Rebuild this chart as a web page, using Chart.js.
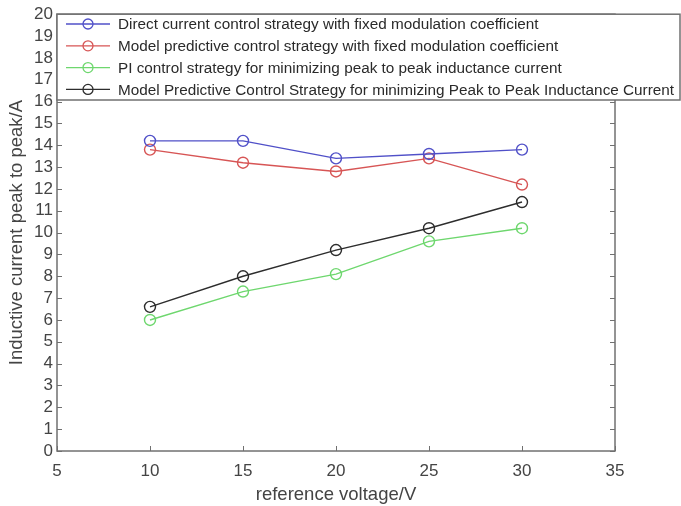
<!DOCTYPE html>
<html>
<head>
<meta charset="utf-8">
<script src="https://cdn.jsdelivr.net/npm/chart.js@4/dist/chart.umd.min.js"></script>
<style>
  body { margin: 0; background: #fff; }
</style>
</head>
<body>
<canvas id="myLineChart" width="681" height="506"></canvas>
<script>
var voltages = [10, 15, 20, 25, 30];
var seriesNames = [
    'Direct current control strategy with fixed modulation coefficient',
    'Model predictive control strategy with fixed modulation coefficient',
    'PI control strategy for minimizing peak to peak inductance current',
    'Model Predictive Control Strategy for minimizing Peak to Peak Inductance Current'
];
var directCurrent = [14.2, 14.2, 13.4, 13.6, 13.8];
var mpcFixed = [13.8, 13.2, 12.8, 13.4, 12.2];
var piMinPeak = [6.0, 7.3, 8.1, 9.6, 10.2];
var mpcMinPeak = [6.6, 8.0, 9.2, 10.2, 11.4];
var seriesColors = ['rgb(80, 80, 200)', 'rgb(215, 85, 85)', 'rgb(110, 215, 110)', 'rgb(45, 45, 45)'];

var allSeries = [directCurrent, mpcFixed, piMinPeak, mpcMinPeak];

var ctx = document.getElementById('myLineChart').getContext('2d');

// box frame with inward ticks, plus the legend box sitting on top
var framePlugin = {
    id: 'frame',
    afterDraw: function (chart) {
        var c = chart.ctx;
        var a = chart.chartArea;
        var xs = chart.scales.x, ys = chart.scales.y;
        c.save();
        c.strokeStyle = '#707070';
        c.lineWidth = 1.5;
        c.strokeRect(a.left, a.top, a.right - a.left, a.bottom - a.top);
        c.lineWidth = 1;
        c.beginPath();
        ys.ticks.forEach(function (t) {
            var y = Math.round(ys.getPixelForValue(t.value)) + 0.5;
            c.moveTo(a.left, y); c.lineTo(a.left + 5, y);
            c.moveTo(a.right, y); c.lineTo(a.right - 5, y);
        });
        xs.ticks.forEach(function (t) {
            var x = Math.round(xs.getPixelForValue(t.value)) + 0.5;
            c.moveTo(x, a.bottom); c.lineTo(x, a.bottom - 5);
            c.moveTo(x, a.top); c.lineTo(x, a.top + 5);
        });
        c.stroke();

        // legend
        var lx = a.left, ly = a.top, lw = 680 - a.left, lh = 100 - a.top;
        c.fillStyle = '#fff';
        c.fillRect(lx, ly, lw, lh);
        c.strokeStyle = '#707070';
        c.lineWidth = 1.5;
        c.strokeRect(lx, ly, lw, lh);
        c.font = '15.3px "Liberation Sans", Arial, sans-serif';
        c.textBaseline = 'middle';
        chart.data.datasets.forEach(function (ds, i) {
            var y = 24 + i * 21.8;
            c.strokeStyle = ds.borderColor;
            c.lineWidth = 1.3;
            c.beginPath();
            c.moveTo(66, y); c.lineTo(110, y);
            c.stroke();
            c.beginPath();
            c.arc(88, y, 5, 0, Math.PI * 2);
            c.stroke();
            c.fillStyle = '#2a2a2a';
            c.fillText(ds.label, 118, y + 1);
        });
        c.restore();
    }
};

var myLineChart = new Chart(ctx, {
    type: 'line',
    data: {
        datasets: allSeries.map(function (vals, i) {
            return {
                label: seriesNames[i],
                data: vals.map(function (v, j) { return { x: voltages[j], y: v }; }),
                borderColor: seriesColors[i],
                backgroundColor: 'rgba(0,0,0,0)',
                pointBackgroundColor: 'rgba(0,0,0,0)',
                pointBorderColor: seriesColors[i],
                pointRadius: 5.5,
                pointBorderWidth: 1.4,
                borderWidth: 1.4,
                tension: 0,
                fill: false
            };
        })
    },
    plugins: [framePlugin],
    options: {
        responsive: false,
        animation: false,
        layout: { padding: { top: 13, right: 66, left: 0, bottom: 0 } },
        plugins: {
            legend: { display: false },
            tooltip: { enabled: false }
        },
        scales: {
            x: {
                type: 'linear',
                min: 5,
                max: 35,
                afterFit: function (s) { s.height = 55; },
                ticks: {
                    stepSize: 5,
                    padding: 10,
                    autoSkip: false,
                    maxRotation: 0,
                    color: '#444',
                    font: { size: 17, family: '"Liberation Sans", Arial, sans-serif' }
                },
                grid: { display: false, drawTicks: false },
                border: { display: false },
                title: {
                    display: true,
                    text: 'reference voltage/V',
                    color: '#444',
                    padding: { top: 2, bottom: 0 },
                    font: { size: 18.5, family: '"Liberation Sans", Arial, sans-serif' }
                }
            },
            y: {
                type: 'linear',
                min: 0,
                max: 20,
                afterFit: function (s) { s.width = 57; },
                ticks: {
                    stepSize: 1,
                    padding: 4,
                    autoSkip: false,
                    color: '#444',
                    font: { size: 17, family: '"Liberation Sans", Arial, sans-serif' }
                },
                grid: { display: false, drawTicks: false },
                border: { display: false },
                title: {
                    display: true,
                    text: 'Inductive current peak to peak/A',
                    color: '#444',
                    padding: { top: 6, bottom: 0 },
                    font: { size: 18.5, family: '"Liberation Sans", Arial, sans-serif' }
                }
            }
        }
    }
});
</script>
</body>
</html>
